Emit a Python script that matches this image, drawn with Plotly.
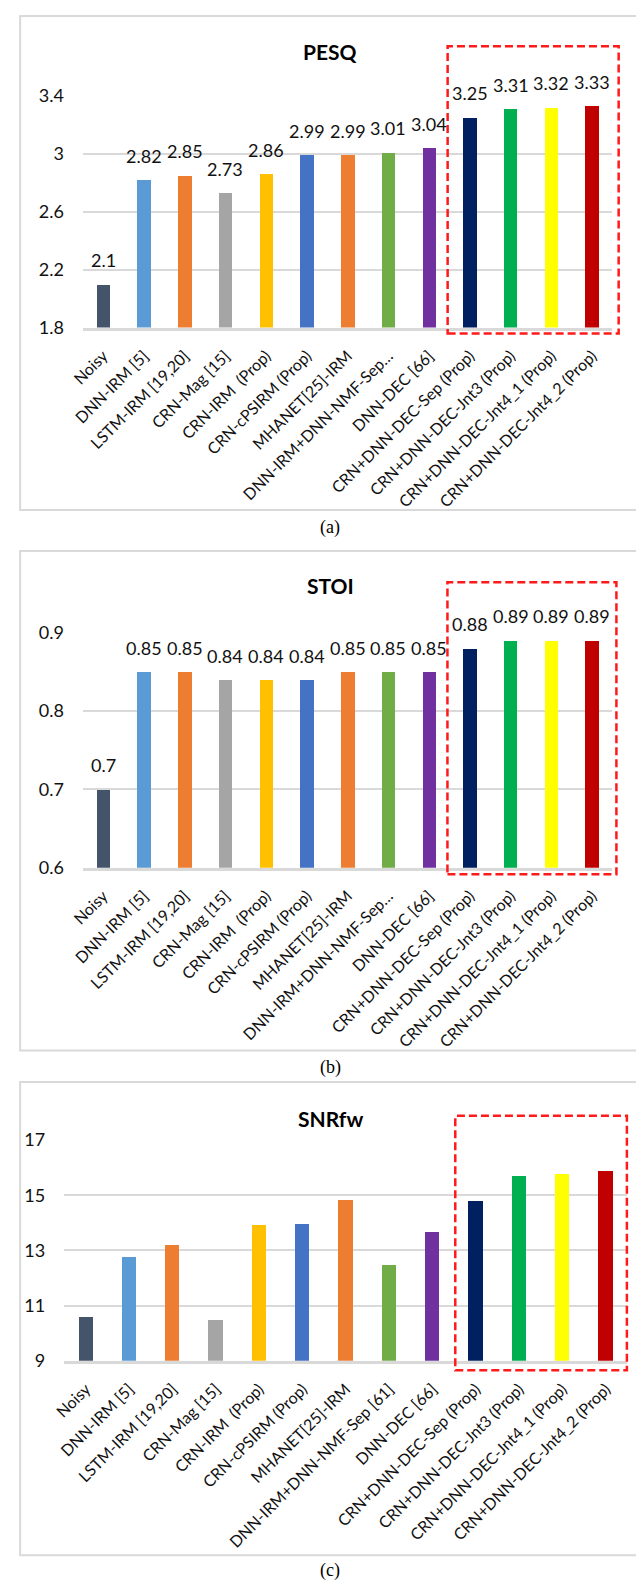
import plotly.graph_objects as go

W, H = 636, 1591

# ---------------- data ----------------
methods_ab = ["Noisy", "DNN-IRM [5]", "LSTM-IRM [19,20]", "CRN-Mag [15]",
              "CRN-IRM\u00a0 (Prop)", "CRN-cPSIRM (Prop)", "MHANET[25]-IRM",
              "DNN-IRM+DNN-NMF-Sep\u2026", "DNN-DEC [66]",
              "CRN+DNN-DEC-Sep (Prop)", "CRN+DNN-DEC-Jnt3 (Prop)",
              "CRN+DNN-DEC-Jnt4_1 (Prop)", "CRN+DNN-DEC-Jnt4_2 (Prop)"]
methods_c = ["Noisy", "DNN-IRM [5]", "LSTM-IRM [19,20]", "CRN-Mag [15]",
             "CRN-IRM\u00a0 (Prop)", "CRN-cPSIRM (Prop)", "MHANET[25]-IRM",
             "DNN-IRM+DNN-NMF-Sep [61]", "DNN-DEC [66]",
             "CRN+DNN-DEC-Sep (Prop)", "CRN+DNN-DEC-Jnt3 (Prop)",
             "CRN+DNN-DEC-Jnt4_1 (Prop)", "CRN+DNN-DEC-Jnt4_2 (Prop)"]

pesq = [2.1, 2.82, 2.85, 2.73, 2.86, 2.99, 2.99, 3.01, 3.04, 3.25, 3.31, 3.32, 3.33]
stoi = [0.7, 0.85, 0.85, 0.84, 0.84, 0.84, 0.85, 0.85, 0.85, 0.88, 0.89, 0.89, 0.89]
snrfw = [10.57, 12.75, 13.18, 10.47, 13.93, 13.96, 14.82, 12.46, 13.68, 14.79, 15.71, 15.75, 15.86]

pesq_ticks = [1.8, 2.2, 2.6, 3.0, 3.4]
pesq_ticktext = ["1.8", "2.2", "2.6", "3", "3.4"]
stoi_ticks = [0.6, 0.7, 0.8, 0.9]
stoi_ticktext = ["0.6", "0.7", "0.8", "0.9"]
snr_ticks = [9, 11, 13, 15, 17]
snr_ticktext = ["9", "11", "13", "15", "17"]

colors = ["#44546A", "#5B9BD5", "#ED7D31", "#A5A5A5", "#FFC000", "#4472C4",
          "#ED7D31", "#70AD47", "#7030A0", "#002060", "#00B050", "#FFFF00", "#C00000"]

titles = ["PESQ", "STOI", "SNRfw"]
captions = ["(a)", "(b)", "(c)"]

# ---------------- helpers ----------------
def fx(p):
    return p / W

def fy(p):
    return 1 - p / H

FONT = "Lato"
GRID = "#D9D9D9"

fig = go.Figure()

panels = [
    dict(cats=methods_ab, vals=pesq, ticks=pesq_ticks, tt=pesq_ticktext, rng=[1.8, 3.4],
         xd=[71.3, 611.9], yd=[320, 84.7], box=[4, 505], cap=523, title_y=40,
         red=[443.7, 618.3, 34.7, 326], labels=True),
    dict(cats=methods_ab, vals=stoi, ticks=stoi_ticks, tt=stoi_ticktext, rng=[0.6, 0.9],
         xd=[71.3, 611.9], yd=[867.7, 629.3], box=[546.5, 1053], cap=1070, title_y=582,
         red=[443.5, 616, 578.3, 874.3], labels=True),
    dict(cats=methods_c, vals=snrfw, ticks=snr_ticks, tt=snr_ticktext, rng=[9, 17],
         xd=[52.3, 627.3], yd=[1367.7, 1144], box=[1085, 1565], cap=1580, title_y=1121.7,
         red=[451.5, 626.7, 1119.3, 1377.3], labels=False),
]

shapes = []
annotations = []

for i, p in enumerate(panels):
    n = "" if i == 0 else str(i + 1)
    xa, ya = "x" + n, "y" + n
    fig.add_trace(go.Bar(
        x=p["cats"], y=p["vals"], marker=dict(color=colors, line=dict(width=0)),
        width=0.33, xaxis=xa, yaxis=ya, showlegend=False, hoverinfo="x+y",
    ))
    fig.layout["xaxis" + n] = dict(
        domain=[fx(p["xd"][0]), fx(p["xd"][1])], anchor=ya, type="category",
        tickangle=-45, tickfont=dict(family=FONT, size=16, color="#111"),
        showgrid=False, showline=True, linecolor=GRID, linewidth=2.5,
        ticks="", ticklabelstandoff=10, fixedrange=True,
    )
    fig.layout["yaxis" + n] = dict(
        domain=[fy(p["yd"][0]), fy(p["yd"][1])], anchor=xa, range=p["rng"],
        tickvals=p["ticks"], ticktext=p["tt"],
        tickfont=dict(family=FONT, size=18, color="#111"),
        showgrid=True, gridcolor=GRID, gridwidth=2, zeroline=False,
        showline=False, ticks="", ticklabelstandoff=18, fixedrange=True,
    )
    if p["labels"]:
        for c, v in zip(p["cats"], p["vals"]):
            annotations.append(dict(
                x=c, y=v, xref=xa, yref=ya, text=f"{v:g}", showarrow=False,
                yanchor="bottom", xanchor="center", yshift=11,
                font=dict(family=FONT, size=18, color="#111"),
            ))
    # panel box
    shapes.append(dict(type="rect", xref="paper", yref="paper",
                       x0=fx(7.3), x1=fx(660), y0=fy(p["box"][1]), y1=fy(p["box"][0]),
                       line=dict(color=GRID, width=2), layer="below"))
    # red dashed highlight
    r = p["red"]
    shapes.append(dict(type="rect", xref="paper", yref="paper",
                       x0=fx(r[0]), x1=fx(r[1]), y0=fy(r[3]), y1=fy(r[2]),
                       line=dict(color="#FF1A1A", width=2.5, dash="8px,4px")))
    # title
    annotations.append(dict(x=fx(324), y=fy(p["title_y"]), xref="paper", yref="paper",
                            text="<b>" + titles[i] + "</b>", showarrow=False,
                            xanchor="center", yanchor="middle",
                            font=dict(family=FONT, size=21, color="#000")))
    # caption
    annotations.append(dict(x=fx(324), y=fy(p["cap"]), xref="paper", yref="paper",
                            text=captions[i], showarrow=False,
                            xanchor="center", yanchor="middle",
                            font=dict(family="Liberation Serif", size=18, color="#000")))

fig.update_layout(
    width=W, height=H, margin=dict(l=0, r=0, t=0, b=0),
    paper_bgcolor="white", plot_bgcolor="white",
    shapes=shapes, annotations=annotations, bargap=0,
)

fig.write_html(
    "out.html",
    config={"displayModeBar": False},
    post_script="document.body.style.margin='0';document.body.style.overflow='hidden';",
)
